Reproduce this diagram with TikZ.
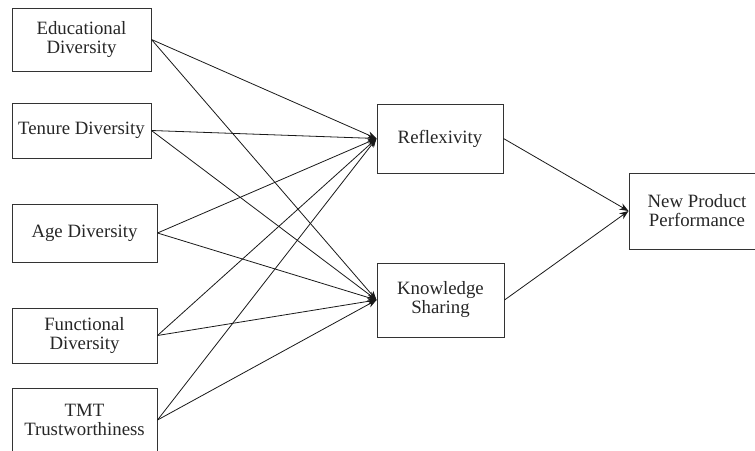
\documentclass[tikz,border=0pt]{standalone}
\usepackage{fontspec}
\setmainfont{Liberation Serif}
\usetikzlibrary{arrows.meta}
\begin{document}
\begin{tikzpicture}[x=1pt,y=-1pt,
  box/.style={draw=black!80,line width=1pt,rectangle,inner sep=2pt,align=center,
    font=\fontsize{18.8}{19}\selectfont,text=black!85},
  link/.style={draw=black!90,line width=0.8pt,-{Stealth[length=9pt,width=7pt]}}]
\clip (0,0) rectangle (755,450);
\node[box,minimum width=139pt,minimum height=63pt] (edu) at (81.5,39.5) {Educational\\Diversity};
\node[box,minimum width=139pt,minimum height=55pt] (ten) at (81.5,130.5) {Tenure Diversity};
\node[box,minimum width=145pt,minimum height=58pt] (age) at (84.5,233) {Age Diversity};
\node[box,minimum width=145pt,minimum height=55pt] (fun) at (84.5,335.5) {Functional\\Diversity};
\node[box,minimum width=145pt,minimum height=64pt] (tmt) at (84.5,420) {TMT\\Trustworthiness};
\node[box,minimum width=126pt,minimum height=69pt] (refl) at (440,138.5) {Reflexivity};
\node[box,minimum width=127pt,minimum height=74pt] (know) at (440.5,300) {Knowledge\\Sharing};
\node[box,minimum width=136pt,minimum height=76pt] (npp) at (697,211) {New Product\\Performance};
\foreach \s in {edu,ten,age,fun,tmt}{
  \draw[link] (\s.east) -- (refl.west);
  \draw[link] (\s.east) -- (know.west);
}
\draw[link] (refl.east) -- (npp.west);
\draw[link] (know.east) -- (npp.west);
\end{tikzpicture}
\end{document}
